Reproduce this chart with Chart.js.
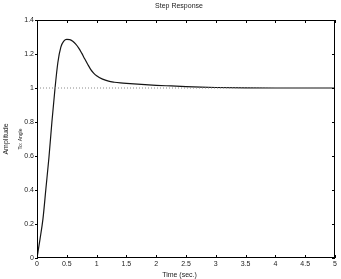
<!DOCTYPE html>
<html>
<head>
<meta charset="utf-8">
<script src="https://cdn.jsdelivr.net/npm/chart.js@4/dist/chart.umd.min.js"></script>
<style>
  html, body { margin: 0; padding: 0; background: #fff; }
</style>
</head>
<body>
<canvas id="stepChart" width="341" height="279"></canvas>
<script>
// step response
const timeSec = [0, 0.05, 0.1, 0.15, 0.2, 0.25, 0.3, 0.35, 0.4, 0.45, 0.5, 0.55, 0.6, 0.65, 0.7, 0.75, 0.8, 0.85, 0.9, 0.95, 1.0,
                 1.1, 1.2, 1.3, 1.4, 1.5, 1.75, 2.0, 2.25, 2.5, 2.75, 3.0, 3.5, 4.0, 4.5, 5.0];
const amplitude = [0, 0.11, 0.23, 0.41, 0.59, 0.8, 0.99, 1.15, 1.24, 1.276, 1.286, 1.285, 1.275, 1.258, 1.235, 1.205, 1.172, 1.14, 1.11, 1.088, 1.072,
                   1.052, 1.04, 1.034, 1.03, 1.027, 1.021, 1.016, 1.012, 1.008, 1.005, 1.003, 1.001, 1.0, 1.0, 1.0];
const refTime = [0, 5];
const refLevel = [1, 1];
const xTicks = [0, 0.5, 1, 1.5, 2, 2.5, 3, 3.5, 4, 4.5, 5];
const yTicks = [0, 0.2, 0.4, 0.6, 0.8, 1, 1.2, 1.4];

const FONT = '"Liberation Sans", Arial, Helvetica, sans-serif';
const TXT = '#222';

const toPoints = (xs, ys) => xs.map((x, i) => ({ x: x, y: ys[i] }));

// box round the plot with matlab style tick marks, plus the loose texts
const framePlugin = {
    id: 'frame',
    afterDraw(chart) {
        const ctx = chart.ctx;
        const a = chart.chartArea;
        const xs = chart.scales.x;
        const ys = chart.scales.y;
        ctx.save();
        ctx.strokeStyle = '#000';
        ctx.lineWidth = 1;
        ctx.strokeRect(a.left + 0.5, a.top + 0.5, a.right - a.left - 1, a.bottom - a.top - 1);
        ctx.beginPath();
        xTicks.forEach(function (v) {
            const px = Math.round(xs.getPixelForValue(v)) + 0.5;
            ctx.moveTo(px, a.bottom);
            ctx.lineTo(px, a.bottom - 3);
            ctx.moveTo(px, a.top);
            ctx.lineTo(px, a.top + 3);
        });
        yTicks.forEach(function (v) {
            const py = Math.round(ys.getPixelForValue(v)) + 0.5;
            ctx.moveTo(a.left - 2, py);
            ctx.lineTo(a.left + 1, py);
            ctx.moveTo(a.right, py);
            ctx.lineTo(a.right - 3, py);
        });
        ctx.stroke();

        ctx.fillStyle = TXT;
        ctx.textAlign = 'center';
        ctx.textBaseline = 'middle';
        ctx.font = '7px ' + FONT;
        ctx.fillText('Step Response', 179, 6.5);
        ctx.fillText('Time (sec.)', 179.5, 275);
        // small output name next to the y title
        ctx.font = '5px ' + FONT;
        ctx.translate(20.5, (a.top + a.bottom) / 2);
        ctx.rotate(-Math.PI / 2);
        ctx.fillText('To: Angle', 0, 0);
        ctx.restore();
    }
};

new Chart(document.getElementById('stepChart'), {
    type: 'line',
    data: {
        datasets: [{
            label: 'Reference',
            data: toPoints(refTime, refLevel),
            borderColor: '#8a8a8a',
            borderWidth: 1,
            borderDash: [1, 2],
            pointRadius: 0,
            fill: false
        }, {
            label: 'Angle',
            data: toPoints(timeSec, amplitude),
            borderColor: '#151515',
            borderWidth: 1.2,
            cubicInterpolationMode: 'monotone',
            pointRadius: 0,
            fill: false
        }]
    },
    options: {
        responsive: false,
        animation: false,
        layout: { padding: { left: 0, right: 6, top: 20, bottom: 0 } },
        plugins: {
            legend: { display: false },
            tooltip: { enabled: false },
            title: { display: false }
        },
        scales: {
            x: {
                type: 'linear',
                min: 0,
                max: 5,
                grid: { display: false, drawTicks: false },
                border: { display: false },
                afterBuildTicks: function (s) { s.ticks = xTicks.map(function (v) { return { value: v }; }); },
                afterFit: function (s) { s.height = 21; },
                ticks: {
                    color: TXT,
                    padding: 2,
                    maxRotation: 0,
                    autoSkip: false,
                    font: { family: FONT, size: 7 },
                    callback: function (v) { return String(v); }
                }
            },
            y: {
                type: 'linear',
                min: 0,
                max: 1.4,
                grid: { display: false, drawTicks: false },
                border: { display: false },
                afterBuildTicks: function (s) { s.ticks = yTicks.map(function (v) { return { value: v }; }); },
                afterFit: function (s) { s.width = 37; },
                ticks: {
                    color: TXT,
                    padding: 3,
                    autoSkip: false,
                    font: { family: FONT, size: 7 },
                    callback: function (v) { return String(v); }
                },
                title: {
                    display: true,
                    text: 'Amplitude',
                    color: TXT,
                    font: { family: FONT, size: 7 },
                    padding: { top: 2, bottom: 0 }
                }
            }
        }
    },
    plugins: [framePlugin]
});
</script>
</body>
</html>
